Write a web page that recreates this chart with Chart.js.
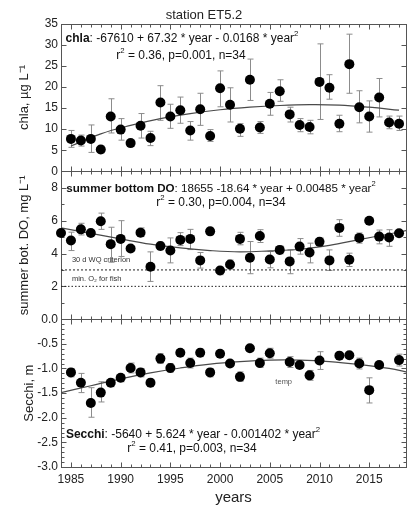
<!DOCTYPE html>
<html>
<head>
<meta charset="utf-8">
<title>station ET5.2</title>
<script src="https://cdn.jsdelivr.net/npm/chart.js@4.4.1/dist/chart.umd.min.js"></script>
<style>
  html, body { margin: 0; padding: 0; background: #fff; }
  #wrap { width: 411px; height: 508px; }
</style>
</head>
<body>
<div id="wrap"><canvas id="chart" width="411" height="508"></canvas></div>
<script>
// --- DATA ---
const years = [1984, 1985, 1986, 1987, 1988, 1989, 1990, 1991, 1992, 1993, 1994, 1995,
  1996, 1997, 1998, 1999, 2000, 2001, 2002, 2003, 2004, 2005, 2006, 2007, 2008, 2009,
  2010, 2011, 2012, 2013, 2014, 2015, 2016, 2017, 2018];

const chla   = [null, 7.7, 7.3, 7.7, 5.2, 13.0, 9.9, 6.7, 10.8, 7.9, 16.3, 13.0, 14.5, 9.7, 14.7, 8.4, 19.7, 15.8,
  10.1, 21.7, 10.4, 16.0, 19.0, 13.5, 11.0, 10.5, 21.2, 19.8, 11.3, 25.4, 15.2, 13.0, 17.5, 11.6, 11.3];
const chlaHi = [null, 9.7, 8.6, 11.0, 6.0, 17.2, 12.5, 7.4, 13.7, 9.5, 20.3, 15.9, 17.6, 11.8, 18.5, 9.9, 23.8, 19.8,
  11.3, 26.6, 11.8, 18.7, 21.7, 15.2, 12.5, 12.1, 30.2, 22.9, 13.3, 32.5, 19.1, 16.7, 22.0, 13.1, 13.1];
const chlaLo = [null, 5.7, 6.0, 4.5, 4.4, 9.1, 7.4, 5.9, 7.9, 6.1, 12.1, 10.2, 11.4, 7.4, 10.9, 7.1, 15.3, 11.7,
  8.3, 16.8, 9.0, 13.3, 16.6, 11.7, 9.4, 8.9, 12.3, 17.1, 9.4, 18.5, 11.5, 9.3, 12.9, 10.1, 9.7];

const bottomDO = [5.25, 4.79, 5.47, 5.25, 5.96, 4.57, 4.89, 4.30, 5.27, 3.19, 4.46, 4.18, 4.83, 4.89, 3.58, 5.35, 2.97, 3.33,
  4.89, 3.74, 5.07, 3.64, 4.22, 3.52, 4.42, 4.06, 4.71, 3.58, 5.56, 3.62, 4.95, 6.00, 5.03, 4.97, 5.23];
const bottomDOHi = [5.40, 5.30, 5.84, 5.40, 6.46, 5.60, 6.00, 4.45, 5.56, 4.10, 4.69, 4.95, 5.27, 5.47, 4.06, 5.55, 3.17, 3.60,
  5.29, 4.73, 5.45, 4.12, 4.46, 4.22, 4.91, 4.63, 4.95, 4.22, 6.06, 4.02, 5.25, 6.10, 5.43, 5.45, 5.35];
const bottomDOLo = [5.10, 4.18, 5.13, 5.10, 5.47, 3.47, 3.82, 4.15, 5.03, 2.30, 4.22, 3.43, 4.48, 4.24, 3.11, 5.15, 2.71, 3.05,
  4.53, 2.77, 4.67, 3.13, 3.98, 2.77, 3.96, 3.43, 4.48, 2.97, 5.05, 3.21, 4.63, 5.90, 4.59, 4.44, 5.10];

const secchi   = [null, -1.08, -1.29, -1.70, -1.49, -1.29, -1.19, -0.99, -1.08, -1.29, -0.80, -0.99, -0.68, -0.89, -0.68, -1.08, -0.70, -0.90,
  -1.17, -0.59, -0.89, -0.69, null, -0.87, -0.93, -1.14, -0.84, null, -0.74, -0.73, -0.90, -1.44, -0.93, null, -0.83];
const secchiHi = [null, -1.00, -1.10, -1.39, -1.27, -1.21, -1.12, -0.89, -1.00, -1.21, -0.70, -0.90, -0.63, -0.79, -0.60, -1.00, -0.65, -0.85,
  -1.07, -0.55, -0.79, -0.59, null, -0.76, -0.88, -1.04, -0.66, null, -0.70, -0.69, -0.79, -1.19, -0.88, null, -0.71];
const secchiLo = [null, -1.17, -1.49, -1.99, -1.68, -1.37, -1.27, -1.09, -1.17, -1.37, -0.90, -1.08, -0.73, -0.99, -0.76, -1.17, -0.75, -0.95,
  -1.26, -0.63, -0.98, -0.79, null, -0.98, -0.98, -1.24, -1.02, null, -0.78, -0.77, -1.01, -1.70, -0.98, null, -0.95];

// fitted quadratics, sampled from the drawn curves
const chlaFitYears = [1985, 1988, 1991, 1994, 1997, 2000, 2003, 2006, 2009, 2012, 2015, 2018];
const chlaFit      = [6.0, 8.9, 10.9, 12.5, 13.7, 14.6, 15.2, 15.6, 15.8, 15.7, 15.2, 14.5];
const fitYears     = [1984, 1987, 1990, 1993, 1996, 1999, 2002, 2005, 2008, 2011, 2014, 2017, 2019];
const bottomDOFit  = [5.56, 5.23, 4.89, 4.57, 4.34, 4.18, 4.10, 4.16, 4.26, 4.50, 4.85, 5.19, 5.43];
const secchiFit    = [-1.49, -1.35, -1.21, -1.09, -0.99, -0.91, -0.86, -0.83, -0.83, -0.86, -0.92, -1.00, -1.08];

// reference levels for oxygen
const criteriaYears = [1984, 2019];
const wqCriterion = 3;
const fishMinimum = 2;

// tick labels
const yearTicks = [1985, 1990, 1995, 2000, 2005, 2010, 2015];
const chlaTicks = [0, 5, 10, 15, 20, 25, 30, 35];
const doTicks = [0, 2, 4, 6, 8];
const secchiTicks = [0, -0.5, -1.0, -1.5, -2.0, -2.5, -3.0];

// --- HELPERS ---
const FONT = '"Liberation Sans", Arial, sans-serif';
const INK = '#222';
const toPoints = (xs, ys) => xs.map((x, i) => ({ x, y: ys[i] }));

function pointSet(vals, hi, lo, axis) {
  return {
    data: toPoints(years, vals),
    errHi: hi, errLo: lo,
    yAxisID: axis,
    pointRadius: 5,
    pointHoverRadius: 5,
    pointBackgroundColor: '#000',
    pointBorderWidth: 0,
    clip: false,
    order: 0
  };
}

function lineSet(xs, vals, axis, dash) {
  return {
    data: toPoints(xs, vals),
    yAxisID: axis,
    showLine: true,
    pointRadius: 0,
    borderColor: dash ? '#222' : '#4a4a4a',
    borderWidth: dash ? 1 : 1.2,
    borderDash: dash || [],
    tension: dash ? 0 : 0.4,
    order: 1
  };
}

function fixedTicks(list) {
  return scale => { scale.ticks = list.map(v => ({ value: v })); };
}

function richText(ctx, parts, cx, cy, size) {
  const fontOf = p => (p.bold ? 'bold ' : '') + (p.sup ? size * 0.65 : size) + 'px ' + FONT;
  let w = 0;
  parts.forEach(p => { ctx.font = fontOf(p); w += ctx.measureText(p.t).width; });
  let x = cx - w / 2;
  parts.forEach(p => {
    ctx.font = fontOf(p);
    ctx.fillText(p.t, x, p.sup ? cy - size * 0.38 : cy);
    x += ctx.measureText(p.t).width;
  });
}

// --- PLUGINS ---
const panels = [
  { id: 'yChla', minor: 5 },
  { id: 'yDO', minor: 1 },
  { id: 'ySecchi', minor: 0.1 }
];

// box around each panel with inward ticks
const framePlugin = {
  id: 'frame',
  beforeDatasetsDraw(chart) {
    const { ctx, chartArea: a, scales } = chart;
    const xs = scales.x;
    ctx.save();
    ctx.strokeStyle = '#555';
    ctx.lineWidth = 1;
    panels.forEach(p => {
      const s = scales[p.id];
      const top = Math.round(s.top) + 0.5, bot = Math.round(s.bottom) + 0.5;
      const left = Math.round(a.left) + 0.5, right = Math.round(a.right) + 0.5;
      ctx.strokeRect(left, top, right - left, bot - top);
      ctx.beginPath();
      for (let yr = 1984; yr <= 2018; yr++) {
        const px = Math.round(xs.getPixelForValue(yr)) + 0.5;
        const len = yr % 5 === 0 ? 5 : 3;
        ctx.moveTo(px, top); ctx.lineTo(px, top + len);
        ctx.moveTo(px, bot); ctx.lineTo(px, bot - len);
      }
      const n = Math.round((s.max - s.min) / p.minor);
      for (let k = 0; k <= n; k++) {
        const v = s.min + k * p.minor;
        const py = Math.round(s.getPixelForValue(v)) + 0.5;
        const major = s.ticks.some(t => Math.abs(t.value - v) < 1e-6);
        const len = major ? 5 : 3;
        ctx.moveTo(left, py); ctx.lineTo(left + len, py);
        ctx.moveTo(right, py); ctx.lineTo(right - len, py);
      }
      ctx.stroke();
    });
    ctx.restore();
  }
};

// vertical error bars with caps, drawn under the points
const errorBarPlugin = {
  id: 'errorBars',
  beforeDatasetsDraw(chart) {
    const { ctx, scales } = chart;
    ctx.save();
    ctx.strokeStyle = '#8c8c8c';
    ctx.lineWidth = 1;
    chart.data.datasets.forEach(ds => {
      if (!ds.errHi) return;
      const ys = scales[ds.yAxisID];
      ds.data.forEach((p, i) => {
        if (p.y == null || ds.errHi[i] == null) return;
        const px = Math.round(scales.x.getPixelForValue(p.x)) + 0.5;
        const t = ys.getPixelForValue(ds.errHi[i]);
        const b = ys.getPixelForValue(ds.errLo[i]);
        ctx.beginPath();
        ctx.moveTo(px, t); ctx.lineTo(px, b);
        ctx.moveTo(px - 3, t); ctx.lineTo(px + 3, t);
        ctx.moveTo(px - 3, b); ctx.lineTo(px + 3, b);
        ctx.stroke();
      });
    });
    ctx.restore();
  }
};

// regression equations and small notes
const notesPlugin = {
  id: 'notes',
  afterDraw(chart) {
    const { ctx, scales } = chart;
    const xs = scales.x;
    const c = scales.yChla, d = scales.yDO, s = scales.ySecchi;
    ctx.save();
    ctx.fillStyle = '#111';
    ctx.textBaseline = 'middle';

    richText(ctx, [{ t: 'chla', bold: true }, { t: ': -67610 + 67.32 * year - 0.0168 * year' }, { t: '2', sup: true }], 182, c.top + 15, 12);
    richText(ctx, [{ t: 'r' }, { t: '2', sup: true }, { t: ' = 0.36, p=0.001, n=34' }], 181, c.top + 32, 12);

    richText(ctx, [{ t: 'summer bottom DO', bold: true }, { t: ': 18655 -18.64 * year + 0.00485 * year' }, { t: '2', sup: true }], 221, d.top + 17, 11.6);
    richText(ctx, [{ t: 'r' }, { t: '2', sup: true }, { t: ' = 0.30, p=0.004, n=34' }], 221, d.top + 31, 12);

    richText(ctx, [{ t: 'Secchi', bold: true }, { t: ': -5640 + 5.624 * year - 0.001402 * year' }, { t: '2', sup: true }], 193, s.top + 115, 12);
    richText(ctx, [{ t: 'r' }, { t: '2', sup: true }, { t: ' = 0.41, p=0.003, n=34' }], 192, s.top + 129, 12);

    ctx.fillStyle = '#333';
    ctx.textAlign = 'left';
    ctx.font = '7.5px ' + FONT;
    ctx.fillText('30 d WQ criterion', xs.getPixelForValue(1985.1), d.getPixelForValue(3.6));
    ctx.fillText('min. O\u2082 for fish', xs.getPixelForValue(1985.1), d.getPixelForValue(2.45));
    ctx.fillStyle = '#555';
    ctx.textAlign = 'center';
    ctx.fillText('temp', xs.getPixelForValue(2006.4), s.getPixelForValue(-1.27));
    ctx.restore();
  }
};

// --- CHART ---
function yAxis(min, max, ticks, title, titlePad, weight, fmt) {
  return {
    type: 'linear',
    position: 'left',
    stack: 'panels',
    stackWeight: 1,
    weight: weight,
    min: min,
    max: max,
    afterBuildTicks: fixedTicks(ticks),
    afterFit: sc => { sc.width = 61; },
    grid: { display: false, drawTicks: false },
    border: { display: false },
    ticks: { padding: 3, autoSkip: false, color: INK, font: { family: FONT, size: 12 }, callback: fmt },
    title: { display: true, text: title, color: INK, font: { family: FONT, size: 13 }, padding: { top: titlePad, bottom: 0 } }
  };
}

new Chart(document.getElementById('chart'), {
  type: 'scatter',
  data: {
    datasets: [
      pointSet(chla, chlaHi, chlaLo, 'yChla'),
      lineSet(chlaFitYears, chlaFit, 'yChla'),
      pointSet(bottomDO, bottomDOHi, bottomDOLo, 'yDO'),
      lineSet(fitYears, bottomDOFit, 'yDO'),
      lineSet(criteriaYears, criteriaYears.map(() => wqCriterion), 'yDO', [2, 2]),
      lineSet(criteriaYears, criteriaYears.map(() => fishMinimum), 'yDO', [1.5, 2]),
      pointSet(secchi, secchiHi, secchiLo, 'ySecchi'),
      lineSet(fitYears, secchiFit, 'ySecchi')
    ]
  },
  options: {
    responsive: false,
    animation: false,
    events: [],
    layout: { padding: { left: 0, right: 3, top: 0, bottom: 0 } },
    plugins: {
      legend: { display: false },
      tooltip: { enabled: false },
      title: {
        display: true,
        text: 'station ET5.2',
        color: INK,
        font: { family: FONT, size: 13, weight: 'normal' },
        padding: { top: 8, bottom: 0 }
      }
    },
    scales: {
      x: {
        type: 'linear',
        position: 'bottom',
        min: 1984,
        max: 2018.7,
        afterBuildTicks: fixedTicks(yearTicks),
        afterFit: sc => { sc.height = 41; },
        grid: { display: false, drawTicks: false },
        border: { display: false },
        ticks: { padding: 5, maxRotation: 0, autoSkip: false, color: INK, font: { family: FONT, size: 12 }, callback: v => String(v) },
        title: { display: true, text: 'years', color: INK, font: { family: FONT, size: 15 }, padding: { top: 0, bottom: 1 } }
      },
      yChla: yAxis(0, 35, chlaTicks, 'chla, \u00b5g L\u207b\u00b9', 17, 3, v => String(v)),
      yDO: yAxis(0, 9, doTicks, 'summer bot. DO, mg L\u207b\u00b9', 17, 2, v => (v === 0 ? '' : String(v))),
      ySecchi: yAxis(-3, 0, secchiTicks, 'Secchi, m', 22, 1, v => v.toFixed(1))
    }
  },
  plugins: [framePlugin, errorBarPlugin, notesPlugin]
});
</script>
</body>
</html>
